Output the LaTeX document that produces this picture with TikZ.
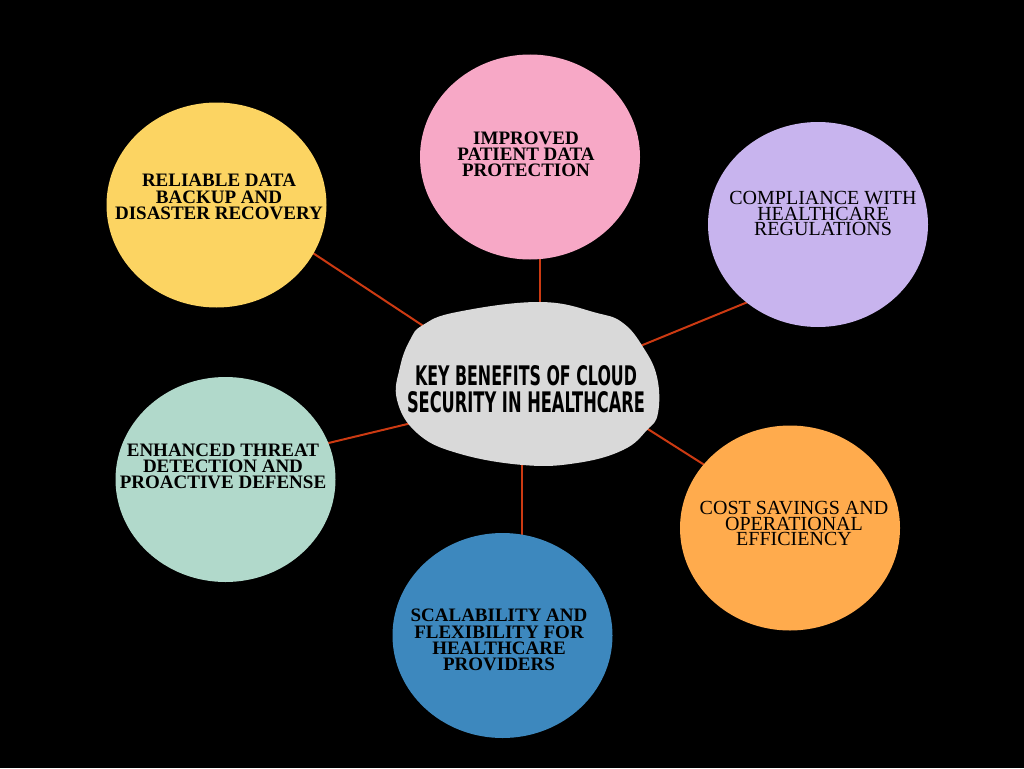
\documentclass[tikz,border=0pt]{standalone}
\usepackage{fontspec}
\setmainfont{Liberation Serif}
\newfontfamily\headfont{DejaVu Sans}
\usetikzlibrary{shapes.geometric}
\definecolor{cyellow}{HTML}{FCD462}
\definecolor{cpink}{HTML}{F7A8C6}
\definecolor{clav}{HTML}{C8B4EE}
\definecolor{corange}{HTML}{FFAB4D}
\definecolor{cblue}{HTML}{3D88BE}
\definecolor{cmint}{HTML}{B1D9CB}
\definecolor{cgray}{HTML}{D9D9D9}
\definecolor{clink}{HTML}{CC3A12}
\tikzset{
  bubble/.style={ellipse, minimum width=220pt, minimum height=205pt, inner sep=0pt},
  boldtxt/.style={align=center, text=black, font=\fontsize{19}{16.3}\selectfont\bfseries},
  regtxt/.style={align=center, text=black, font=\fontsize{20}{15.6}\selectfont},
  link/.style={draw=clink, line width=2pt},
}
\begin{document}
\begin{tikzpicture}[x=1pt,y=-1pt]
\fill[black] (0,0) rectangle (1024,768);
\useasboundingbox (0,0) rectangle (1024,768);
% connector end points
\coordinate (y1) at (300,244.5);
\coordinate (y2) at (440,337);
\coordinate (p1) at (540,250);
\coordinate (p2) at (540,315);
\coordinate (l1) at (760,297);
\coordinate (l2) at (628,351);
\coordinate (o1) at (714,471);
\coordinate (o2) at (632,419);
\coordinate (b1) at (522,455);
\coordinate (b2) at (522,545);
\coordinate (m1) at (314,446.5);
\coordinate (m2) at (420,421);
\draw[link] (y1) -- (y2);
\draw[link] (p1) -- (p2);
\draw[link] (l1) -- (l2);
\draw[link] (o1) -- (o2);
\draw[link] (b1) -- (b2);
\draw[link] (m1) -- (m2);
% central blob
\fill[cgray] plot[smooth cycle, tension=0.7] coordinates {
  (423,325) (457,312) (540,302) (597,313) (623,323) (643,347) (657,377)
  (658,413) (647,430) (623,450) (577,463) (523,465) (457,453) (417,433)
  (397,400) (400,367) (410,340)};
\node (center) at (526,388) {};
\node[anchor=base, inner sep=0pt] (t1) at (526,385) {\resizebox{222pt}{20pt}{\headfont\bfseries KEY BENEFITS OF CLOUD}};
\node[anchor=base, inner sep=0pt] (t2) at (526,412) {\resizebox{238pt}{21pt}{\headfont\bfseries SECURITY IN HEALTHCARE}};
% bubbles
\node[bubble, fill=cyellow] (yellow) at (216.5,205) {};
\node[boldtxt] at (219,197) {RELIABLE DATA\\BACKUP AND\\DISASTER RECOVERY};
\node[bubble, fill=cpink] (pink) at (530,157) {};
\node[boldtxt] at (526,154.5) {IMPROVED\\PATIENT DATA\\PROTECTION};
\node[bubble, fill=clav] (lav) at (818,224.5) {};
\node[regtxt] at (823,213.5) {COMPLIANCE WITH\\HEALTHCARE\\REGULATIONS};
\node[bubble, fill=corange] (orange) at (790,528) {};
\node[regtxt] at (794,523.5) {COST SAVINGS AND\\OPERATIONAL\\EFFICIENCY};
\node[bubble, fill=cblue] (blue) at (502.5,635.5) {};
\node[boldtxt] at (499,640) {SCALABILITY AND\\FLEXIBILITY FOR\\HEALTHCARE\\PROVIDERS};
\node[bubble, fill=cmint] (mint) at (225.5,479.5) {};
\node[boldtxt] at (223,466.5) {ENHANCED THREAT\\DETECTION AND\\PROACTIVE DEFENSE};
\end{tikzpicture}
\end{document}
